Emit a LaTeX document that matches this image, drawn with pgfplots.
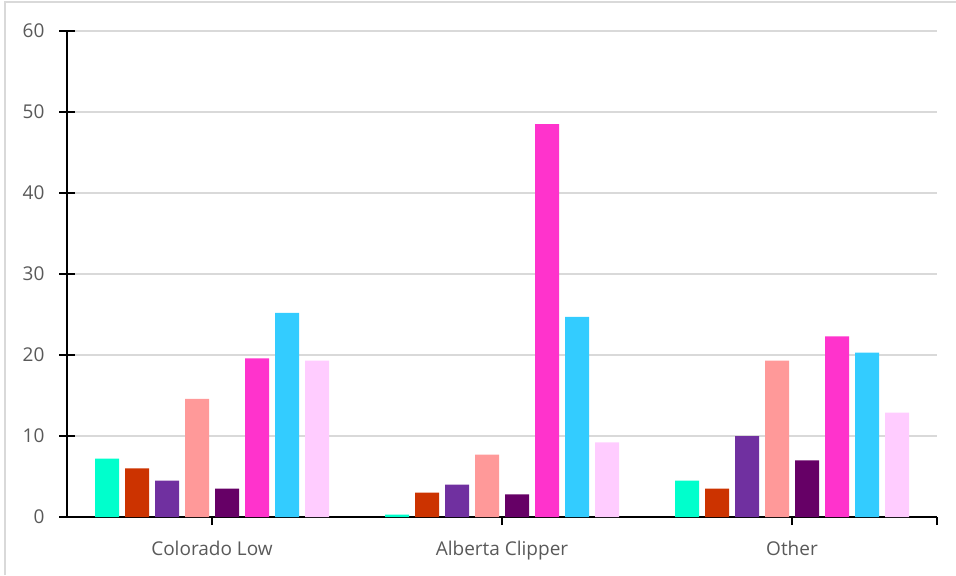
\documentclass[border=0pt]{standalone}
\usepackage{pgfplots}
\pgfplotsset{compat=1.18}
\usepackage{fontspec}
\setmainfont{Open Sans}
\definecolor{c1}{HTML}{00FFCC}
\definecolor{c2}{HTML}{CC3300}
\definecolor{c3}{HTML}{7030A0}
\definecolor{c4}{HTML}{FF9999}
\definecolor{c5}{HTML}{660066}
\definecolor{c6}{HTML}{FF33CC}
\definecolor{c7}{HTML}{33CCFF}
\definecolor{c8}{HTML}{FFCCFF}
\definecolor{txt}{HTML}{595959}
\definecolor{grd}{HTML}{D9D9D9}
\begin{document}
\begin{tikzpicture}
\useasboundingbox (-33.5pt,-29pt) rectangle (444.5pt,258.5pt);
\draw[grd, line width=0.8pt] (-31pt,-29pt) -- (-31pt,257.5pt) -- (444.5pt,257.5pt);
\begin{axis}[
  at={(0,0)}, anchor=south west,
  scale only axis, width=435pt, height=243pt,
  xmin=-0.5, xmax=2.5, ymin=0, ymax=60,
  ytick={0,10,20,30,40,50,60},
  xtick={0,1,2,2.5},
  xticklabels={Colorado Low,Alberta Clipper,Other,{}},
  axis x line*=bottom, axis y line*=left,
  axis line style={black, line width=0.8pt, -},
  xtick align=center, ytick align=center,
  major tick length=7.5pt,
  tick style={black, line width=0.8pt},
  x tick style={/pgfplots/major tick length=4pt},
  ymajorgrids, grid style={grd, line width=0.8pt},
  /pgf/number format/assume math mode=true,
  tick label style={font=\fontsize{9.5}{11}\selectfont, text=txt},
  yticklabel style={xshift=-4pt},
  xticklabel style={yshift=-1pt},
  ybar, bar width=12pt,
  every axis plot/.append style={draw=none},
]
\addplot[fill=c1, bar shift=-52.5pt] coordinates {(0,7.2) (1,0.3) (2,4.5)};
\addplot[fill=c2, bar shift=-37.5pt] coordinates {(0,6.0) (1,3.0) (2,3.5)};
\addplot[fill=c3, bar shift=-22.5pt] coordinates {(0,4.5) (1,4.0) (2,10.0)};
\addplot[fill=c4, bar shift=-7.5pt] coordinates {(0,14.6) (1,7.7) (2,19.3)};
\addplot[fill=c5, bar shift=7.5pt] coordinates {(0,3.5) (1,2.8) (2,7.0)};
\addplot[fill=c6, bar shift=22.5pt] coordinates {(0,19.6) (1,48.5) (2,22.3)};
\addplot[fill=c7, bar shift=37.5pt] coordinates {(0,25.2) (1,24.7) (2,20.3)};
\addplot[fill=c8, bar shift=52.5pt] coordinates {(0,19.3) (1,9.2) (2,12.9)};
\end{axis}
\end{tikzpicture}
\end{document}
